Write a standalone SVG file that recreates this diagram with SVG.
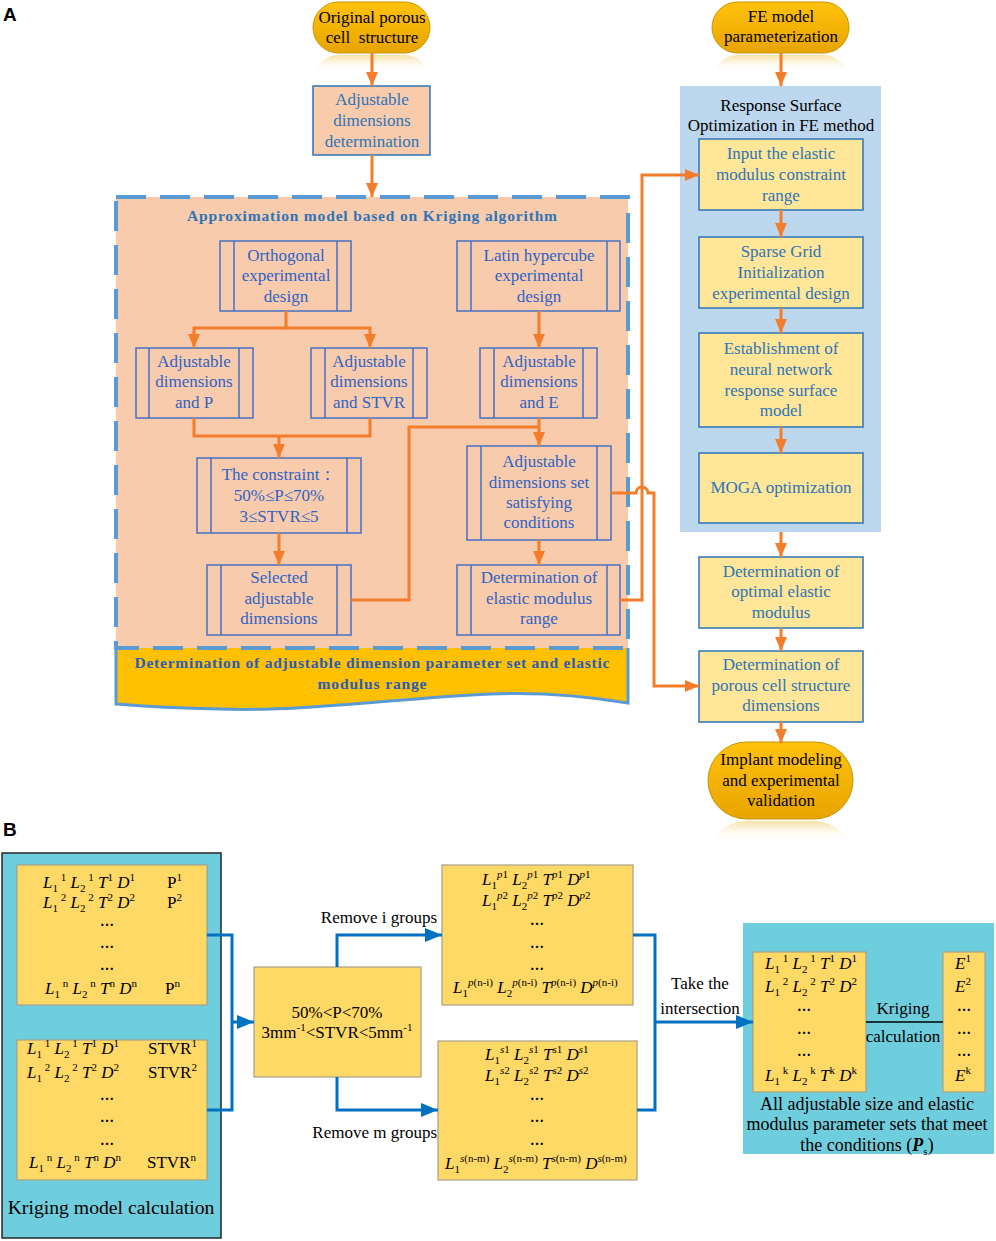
<svg xmlns="http://www.w3.org/2000/svg" width="996" height="1241" viewBox="0 0 996 1241">
<defs>
<style>
text{font-family:"Liberation Serif","Times New Roman",serif;font-size:17px}
.c{text-anchor:middle}
.e{text-anchor:end}
.blk{fill:#000}
.tb{fill:#2E75B6}
.pb{fill:#2F63C4}
.lbl{font-family:"Liberation Sans",Arial,sans-serif;font-weight:bold;font-size:19px;fill:#000}
.bold{font-weight:bold}
.i{font-style:italic}
.dots{font-size:14px;font-weight:bold;text-anchor:middle}
.sup{font-size:11px;baseline-shift:7px}
.sub{font-size:11px;baseline-shift:-4px}
.spb{fill:none;stroke:#4472C4;stroke-width:1.5}
.ybox{fill:#FFE699;stroke:#2E75B6;stroke-width:1.5}
.mbox{fill:#FFD966;stroke:#A9A088;stroke-width:1.2}
.cyan{fill:#6ECEDD}
.oc{fill:none;stroke:#F47D2B;stroke-width:3}
.bc{fill:none;stroke:#0070C0;stroke-width:3}
.pill{fill:url(#gold);stroke:#C99400;stroke-width:1}
</style>
<linearGradient id="gold" x1="0" y1="0" x2="0" y2="1">
<stop offset="0" stop-color="#FFC20C"/>
<stop offset="1" stop-color="#E8A400"/>
</linearGradient>
<linearGradient id="refl" x1="0" y1="0" x2="0" y2="1">
<stop offset="0" stop-color="#F2C24A" stop-opacity="0.5"/>
<stop offset="0.33" stop-color="#FFFFFF" stop-opacity="0"/>
</linearGradient>
<linearGradient id="refl2" x1="0" y1="0" x2="0" y2="1">
<stop offset="0" stop-color="#F2C24A" stop-opacity="0.5"/>
<stop offset="0.26" stop-color="#FFFFFF" stop-opacity="0"/>
</linearGradient>
<clipPath id="c1"><rect x="300" y="55" width="140" height="18"/></clipPath>
<clipPath id="c2"><rect x="700" y="55" width="160" height="18"/></clipPath>
<clipPath id="c3"><rect x="700" y="821" width="160" height="21"/></clipPath>
<marker id="ao" markerUnits="userSpaceOnUse" markerWidth="14" markerHeight="12" refX="14" refY="6" orient="auto">
<path d="M0,0 L14,6 L0,12 z" fill="#F47D2B"/>
</marker>
<marker id="ab" markerUnits="userSpaceOnUse" markerWidth="17" markerHeight="14" refX="17" refY="7" orient="auto">
<path d="M0,0 L17,7 L0,14 z" fill="#0070C0"/>
</marker>
</defs>
<rect width="996" height="1241" fill="#FFFFFF"/>

<text class="lbl" x="3" y="21">A</text>
<text class="lbl" x="3" y="836">B</text>

<!-- Panel A containers -->
<g id="kriging-region">
<path d="M116,648 H628 V703 C580,695 540,692 490,694 C400,698 300,712 220,709 C170,708 140,706 116,704 Z" fill="#FFC000"/>
<path d="M116,648 V704 C140,706 170,708 220,709 C300,712 400,698 490,694 C540,692 580,695 628,703 V648" fill="none" stroke="#5B9BD5" stroke-width="3"/>
<rect x="116" y="197" width="512" height="451" fill="#F8CBAD" stroke="#5B9BD5" stroke-width="4" stroke-dasharray="30 14"/>
<text class="c bold" x="372" y="221" fill="#2E75B6" style="font-size:15.5px" textLength="370" lengthAdjust="spacing">Approximation model based on Kriging algorithm</text>
<text class="c bold" x="372" y="668" fill="#2A5CB8" style="font-size:15.5px" textLength="475" lengthAdjust="spacing">Determination of adjustable dimension parameter set and elastic</text>
<text class="c bold" x="372" y="689" fill="#2A5CB8" style="font-size:15.5px" textLength="109" lengthAdjust="spacing">modulus range</text>
</g>

<g id="rs-panel">
<rect x="680" y="86" width="201" height="446" fill="#BDD7EE"/>
<text class="c blk" x="781" y="111">Response Surface</text>
<text class="c blk" x="781" y="131">Optimization in FE method</text>
</g>

<!-- Panel A nodes -->
<g id="n-original">
<g clip-path="url(#c1)"><rect x="313" y="55" width="117" height="51" rx="25.5" fill="url(#refl)"/></g>
<rect class="pill" x="313" y="2" width="117" height="51" rx="25.5"/>
<text class="c blk" x="372" y="23">Original porous</text>
<text class="c blk" x="372" y="43" xml:space="preserve">cell  structure</text>
</g>
<g id="n-adjdet">
<rect x="313" y="86" width="117" height="69" fill="#F8CBAD" stroke="#2E75B6" stroke-width="1.5"/>
<text class="c tb" x="372" y="105">Adjustable</text>
<text class="c tb" x="372" y="126">dimensions</text>
<text class="c tb" x="372" y="147">determination</text>
</g>
<g id="n-orth">
<rect class="spb" x="220" y="241" width="131" height="70"/>
<path class="spb" d="M234,241 V311 M337,241 V311"/>
<text class="c pb" x="286" y="261">Orthogonal</text>
<text class="c pb" x="286" y="281">experimental</text>
<text class="c pb" x="286" y="302">design</text>
</g>
<g id="n-latin">
<rect class="spb" x="457" y="241" width="163" height="70"/>
<path class="spb" d="M471,241 V311 M607,241 V311"/>
<text class="c pb" x="539" y="261">Latin hypercube</text>
<text class="c pb" x="539" y="281">experimental</text>
<text class="c pb" x="539" y="302">design</text>
</g>
<g id="n-adjP">
<rect class="spb" x="136" y="348" width="117" height="70"/>
<path class="spb" d="M149,348 V418 M239,348 V418"/>
<text class="c pb" x="194" y="367">Adjustable</text>
<text class="c pb" x="194" y="387">dimensions</text>
<text class="c pb" x="194" y="408">and P</text>
</g>
<g id="n-adjSTVR">
<rect class="spb" x="311" y="348" width="116" height="70"/>
<path class="spb" d="M325,348 V418 M413,348 V418"/>
<text class="c pb" x="369" y="367">Adjustable</text>
<text class="c pb" x="369" y="387">dimensions</text>
<text class="c pb" x="369" y="408">and STVR</text>
</g>
<g id="n-adjE">
<rect class="spb" x="480" y="348" width="117" height="70"/>
<path class="spb" d="M494,348 V418 M583,348 V418"/>
<text class="c pb" x="539" y="367">Adjustable</text>
<text class="c pb" x="539" y="387">dimensions</text>
<text class="c pb" x="539" y="408">and E</text>
</g>
<g id="n-constraint">
<rect class="spb" x="197" y="458" width="164" height="75"/>
<path class="spb" d="M211,458 V533 M347,458 V533"/>
<text class="c pb" x="279" y="480">The constraint：</text>
<text class="c pb" x="279" y="501">50%≤P≤70%</text>
<text class="c pb" x="279" y="522">3≤STVR≤5</text>
</g>
<g id="n-set">
<rect class="spb" x="467" y="446" width="144" height="94"/>
<path class="spb" d="M481,446 V540 M597,446 V540"/>
<text class="c pb" x="539" y="467">Adjustable</text>
<text class="c pb" x="539" y="488">dimensions set</text>
<text class="c pb" x="539" y="508">satisfying</text>
<text class="c pb" x="539" y="528">conditions</text>
</g>
<g id="n-selected">
<rect class="spb" x="207" y="565" width="144" height="70"/>
<path class="spb" d="M221,565 V635 M337,565 V635"/>
<text class="c pb" x="279" y="583">Selected</text>
<text class="c pb" x="279" y="604">adjustable</text>
<text class="c pb" x="279" y="624">dimensions</text>
</g>
<g id="n-elrange">
<rect class="spb" x="457" y="565" width="163" height="70"/>
<path class="spb" d="M471,565 V635 M607,565 V635"/>
<text class="c pb" x="539" y="583">Determination of</text>
<text class="c pb" x="539" y="604">elastic modulus</text>
<text class="c pb" x="539" y="624">range</text>
</g>

<g id="n-fe">
<g clip-path="url(#c2)"><rect x="712" y="55" width="137" height="51" rx="25.5" fill="url(#refl)"/></g>
<rect class="pill" x="712" y="2" width="137" height="51" rx="25.5"/>
<text class="c blk" x="781" y="22">FE model</text>
<text class="c blk" x="781" y="42">parameterization</text>
</g>
<g id="n-input">
<rect class="ybox" x="699" y="139" width="164" height="71"/>
<text class="c tb" x="781" y="159">Input the elastic</text>
<text class="c tb" x="781" y="180">modulus constraint</text>
<text class="c tb" x="781" y="201">range</text>
</g>
<g id="n-sparse">
<rect class="ybox" x="699" y="237" width="164" height="71"/>
<text class="c tb" x="781" y="257">Sparse Grid</text>
<text class="c tb" x="781" y="278">Initialization</text>
<text class="c tb" x="781" y="299">experimental design</text>
</g>
<g id="n-nn">
<rect class="ybox" x="699" y="333" width="164" height="94"/>
<text class="c tb" x="781" y="354">Establishment of</text>
<text class="c tb" x="781" y="375">neural network</text>
<text class="c tb" x="781" y="396">response surface</text>
<text class="c tb" x="781" y="416">model</text>
</g>
<g id="n-moga">
<rect class="ybox" x="699" y="453" width="164" height="70"/>
<text class="c tb" x="781" y="493">MOGA optimization</text>
</g>
<g id="n-optimal">
<rect class="ybox" x="699" y="557" width="164" height="71"/>
<text class="c tb" x="781" y="577">Determination of</text>
<text class="c tb" x="781" y="597">optimal elastic</text>
<text class="c tb" x="781" y="618">modulus</text>
</g>
<g id="n-porous">
<rect class="ybox" x="699" y="651" width="164" height="71"/>
<text class="c tb" x="781" y="670">Determination of</text>
<text class="c tb" x="781" y="691">porous cell structure</text>
<text class="c tb" x="781" y="711">dimensions</text>
</g>
<g id="n-implant">
<g clip-path="url(#c3)"><rect x="708" y="821" width="145" height="77" rx="38.5" fill="url(#refl2)"/></g>
<rect class="pill" x="708" y="742" width="145" height="77" rx="38.5"/>
<text class="c blk" x="781" y="765">Implant modeling</text>
<text class="c blk" x="781" y="786">and experimental</text>
<text class="c blk" x="781" y="806">validation</text>
</g>

<!-- Panel A connectors -->
<g id="connectors-a">
<path class="oc" d="M372,53 V86" marker-end="url(#ao)"/>
<path class="oc" d="M372,155 V197" marker-end="url(#ao)"/>
<path class="oc" d="M286,311 V328 H194 V348" marker-end="url(#ao)"/>
<path class="oc" d="M286,328 H370 V348" marker-end="url(#ao)"/>
<path class="oc" d="M539,311 V348" marker-end="url(#ao)"/>
<path class="oc" d="M194,418 V436 H370 V418"/>
<path class="oc" d="M279,436 V458" marker-end="url(#ao)"/>
<path class="oc" d="M539,418 V446" marker-end="url(#ao)"/>
<path class="oc" d="M351,600 H409 V427 H539"/>
<path class="oc" d="M279,533 V565" marker-end="url(#ao)"/>
<path class="oc" d="M539,540 V565" marker-end="url(#ao)"/>
<path class="oc" d="M620,600 H642 V175 H699" marker-end="url(#ao)"/>
<path class="oc" d="M611,493 H636 A6,6 0 0 1 648,493 H654 V686 H699" marker-end="url(#ao)"/>
<path class="oc" d="M781,53 V86" marker-end="url(#ao)"/>
<path class="oc" d="M781,210 V237" marker-end="url(#ao)"/>
<path class="oc" d="M781,308 V333" marker-end="url(#ao)"/>
<path class="oc" d="M781,427 V453" marker-end="url(#ao)"/>
<path class="oc" d="M781,532 V557" marker-end="url(#ao)"/>
<path class="oc" d="M781,628 V651" marker-end="url(#ao)"/>
<path class="oc" d="M781,722 V743" marker-end="url(#ao)"/>
</g>

<!-- Panel B -->
<g id="n-kriging-model">
<rect class="cyan" x="2" y="853" width="219" height="385" stroke="#262626" stroke-width="1.5"/>
<rect class="mbox" x="17" y="865" width="190" height="140"/>
<text x="43" y="888"><tspan class="i">L</tspan><tspan class="sub">1</tspan><tspan class="sup"> 1</tspan> <tspan class="i">L</tspan><tspan class="sub">2</tspan><tspan class="sup"> 1</tspan> <tspan class="i">T</tspan><tspan class="sup">1</tspan> <tspan class="i">D</tspan><tspan class="sup">1</tspan></text>
<text x="167" y="888">P<tspan class="sup">1</tspan></text>
<text x="43" y="908"><tspan class="i">L</tspan><tspan class="sub">1</tspan><tspan class="sup"> 2</tspan> <tspan class="i">L</tspan><tspan class="sub">2</tspan><tspan class="sup"> 2</tspan> <tspan class="i">T</tspan><tspan class="sup">2</tspan> <tspan class="i">D</tspan><tspan class="sup">2</tspan></text>
<text x="167" y="908">P<tspan class="sup">2</tspan></text>
<text class="dots" x="107" y="926">…</text>
<text class="dots" x="107" y="948">…</text>
<text class="dots" x="107" y="970">…</text>
<text x="45" y="994"><tspan class="i">L</tspan><tspan class="sub">1</tspan><tspan class="sup"> n</tspan> <tspan class="i">L</tspan><tspan class="sub">2</tspan><tspan class="sup"> n</tspan> <tspan class="i">T</tspan><tspan class="sup">n</tspan> <tspan class="i">D</tspan><tspan class="sup">n</tspan></text>
<text x="165" y="994">P<tspan class="sup">n</tspan></text>
<rect class="mbox" x="17" y="1040" width="190" height="140"/>
<text x="27" y="1054"><tspan class="i">L</tspan><tspan class="sub">1</tspan><tspan class="sup"> 1</tspan> <tspan class="i">L</tspan><tspan class="sub">2</tspan><tspan class="sup"> 1</tspan> <tspan class="i">T</tspan><tspan class="sup">1</tspan> <tspan class="i">D</tspan><tspan class="sup">1</tspan></text>
<text x="148" y="1054">STVR<tspan class="sup">1</tspan></text>
<text x="27" y="1078"><tspan class="i">L</tspan><tspan class="sub">1</tspan><tspan class="sup"> 2</tspan> <tspan class="i">L</tspan><tspan class="sub">2</tspan><tspan class="sup"> 2</tspan> <tspan class="i">T</tspan><tspan class="sup">2</tspan> <tspan class="i">D</tspan><tspan class="sup">2</tspan></text>
<text x="148" y="1078">STVR<tspan class="sup">2</tspan></text>
<text class="dots" x="107" y="1100">…</text>
<text class="dots" x="107" y="1122">…</text>
<text class="dots" x="107" y="1145">…</text>
<text x="29" y="1168"><tspan class="i">L</tspan><tspan class="sub">1</tspan><tspan class="sup"> n</tspan> <tspan class="i">L</tspan><tspan class="sub">2</tspan><tspan class="sup"> n</tspan> <tspan class="i">T</tspan><tspan class="sup">n</tspan> <tspan class="i">D</tspan><tspan class="sup">n</tspan></text>
<text x="147" y="1168">STVR<tspan class="sup">n</tspan></text>
<text class="c" x="111" y="1214" style="font-size:19.7px">Kriging model calculation</text>
</g>

<g id="n-filter">
<rect class="mbox" x="254" y="967" width="167" height="110"/>
<text class="c" x="337" y="1018">50%&lt;P&lt;70%</text>
<text class="c" x="337" y="1038">3mm<tspan class="sup">-1</tspan>&lt;STVR&lt;5mm<tspan class="sup">-1</tspan></text>
</g>

<g id="n-pset">
<rect class="mbox" x="442" y="865" width="191" height="140"/>
<text x="482" y="885"><tspan class="i">L</tspan><tspan class="sub">1</tspan><tspan class="sup"><tspan class="i">p</tspan>1</tspan> <tspan class="i">L</tspan><tspan class="sub">2</tspan><tspan class="sup"><tspan class="i">p</tspan>1</tspan> <tspan class="i">T</tspan><tspan class="sup"><tspan class="i">p</tspan>1</tspan> <tspan class="i">D</tspan><tspan class="sup"><tspan class="i">p</tspan>1</tspan></text>
<text x="482" y="906"><tspan class="i">L</tspan><tspan class="sub">1</tspan><tspan class="sup"><tspan class="i">p</tspan>2</tspan> <tspan class="i">L</tspan><tspan class="sub">2</tspan><tspan class="sup"><tspan class="i">p</tspan>2</tspan> <tspan class="i">T</tspan><tspan class="sup"><tspan class="i">p</tspan>2</tspan> <tspan class="i">D</tspan><tspan class="sup"><tspan class="i">p</tspan>2</tspan></text>
<text class="dots" x="537" y="925">…</text>
<text class="dots" x="537" y="948">…</text>
<text class="dots" x="537" y="970">…</text>
<text x="453" y="993"><tspan class="i">L</tspan><tspan class="sub">1</tspan><tspan class="sup"><tspan class="i">p</tspan>(n-i)</tspan> <tspan class="i">L</tspan><tspan class="sub">2</tspan><tspan class="sup"><tspan class="i">p</tspan>(n-i)</tspan> <tspan class="i">T</tspan><tspan class="sup"><tspan class="i">p</tspan>(n-i)</tspan> <tspan class="i">D</tspan><tspan class="sup"><tspan class="i">p</tspan>(n-i)</tspan></text>
</g>

<g id="n-sset">
<rect class="mbox" x="438" y="1041" width="199" height="139"/>
<text x="485" y="1060"><tspan class="i">L</tspan><tspan class="sub">1</tspan><tspan class="sup"><tspan class="i">s</tspan>1</tspan> <tspan class="i">L</tspan><tspan class="sub">2</tspan><tspan class="sup"><tspan class="i">s</tspan>1</tspan> <tspan class="i">T</tspan><tspan class="sup"><tspan class="i">s</tspan>1</tspan> <tspan class="i">D</tspan><tspan class="sup"><tspan class="i">s</tspan>1</tspan></text>
<text x="485" y="1081"><tspan class="i">L</tspan><tspan class="sub">1</tspan><tspan class="sup"><tspan class="i">s</tspan>2</tspan> <tspan class="i">L</tspan><tspan class="sub">2</tspan><tspan class="sup"><tspan class="i">s</tspan>2</tspan> <tspan class="i">T</tspan><tspan class="sup"><tspan class="i">s</tspan>2</tspan> <tspan class="i">D</tspan><tspan class="sup"><tspan class="i">s</tspan>2</tspan></text>
<text class="dots" x="537" y="1100">…</text>
<text class="dots" x="537" y="1122">…</text>
<text class="dots" x="537" y="1145">…</text>
<text x="445" y="1169"><tspan class="i">L</tspan><tspan class="sub">1</tspan><tspan class="sup"><tspan class="i">s</tspan>(n-m)</tspan> <tspan class="i">L</tspan><tspan class="sub">2</tspan><tspan class="sup"><tspan class="i">s</tspan>(n-m)</tspan> <tspan class="i">T</tspan><tspan class="sup"><tspan class="i">s</tspan>(n-m)</tspan> <tspan class="i">D</tspan><tspan class="sup"><tspan class="i">s</tspan>(n-m)</tspan></text>
</g>

<g id="n-result">
<rect class="cyan" x="743" y="923" width="251" height="231"/>
<rect class="mbox" x="753" y="952" width="113" height="140"/>
<rect class="mbox" x="943" y="952" width="42" height="140"/>
<text x="765" y="969"><tspan class="i">L</tspan><tspan class="sub">1</tspan><tspan class="sup"> 1</tspan> <tspan class="i">L</tspan><tspan class="sub">2</tspan><tspan class="sup"> 1</tspan> <tspan class="i">T</tspan><tspan class="sup">1</tspan> <tspan class="i">D</tspan><tspan class="sup">1</tspan></text>
<text x="765" y="992"><tspan class="i">L</tspan><tspan class="sub">1</tspan><tspan class="sup"> 2</tspan> <tspan class="i">L</tspan><tspan class="sub">2</tspan><tspan class="sup"> 2</tspan> <tspan class="i">T</tspan><tspan class="sup">2</tspan> <tspan class="i">D</tspan><tspan class="sup">2</tspan></text>
<text class="dots" x="804" y="1011">…</text>
<text class="dots" x="804" y="1034">…</text>
<text class="dots" x="804" y="1056">…</text>
<text x="765" y="1081"><tspan class="i">L</tspan><tspan class="sub">1</tspan><tspan class="sup"> k</tspan> <tspan class="i">L</tspan><tspan class="sub">2</tspan><tspan class="sup"> k</tspan> <tspan class="i">T</tspan><tspan class="sup">k</tspan> <tspan class="i">D</tspan><tspan class="sup">k</tspan></text>
<text x="955" y="969"><tspan class="i">E</tspan><tspan class="sup">1</tspan></text>
<text x="955" y="992"><tspan class="i">E</tspan><tspan class="sup">2</tspan></text>
<text class="dots" x="964" y="1011">…</text>
<text class="dots" x="964" y="1034">…</text>
<text class="dots" x="964" y="1056">…</text>
<text x="955" y="1081"><tspan class="i">E</tspan><tspan class="sup">k</tspan></text>
<path d="M866,1022 H943" stroke="#000" stroke-width="1.5" fill="none"/>
<text class="c" x="903" y="1014">Kriging</text>
<text class="c" x="903" y="1042">calculation</text>
<text class="c" x="867" y="1110" style="font-size:18px">All adjustable size and elastic</text>
<text class="c" x="867" y="1130" style="font-size:18px">modulus parameter sets that meet</text>
<text class="c" x="867" y="1151" style="font-size:18px">the conditions (<tspan class="i bold">P</tspan><tspan class="sub">s</tspan>)</text>
</g>

<g id="connectors-b">
<path class="bc" d="M207,935 H232 V1110 H207"/>
<path class="bc" d="M232,1022 H254" marker-end="url(#ab)"/>
<path class="bc" d="M337,967 V935 H442" marker-end="url(#ab)"/>
<path class="bc" d="M337,1077 V1110 H438" marker-end="url(#ab)"/>
<path class="bc" d="M633,935 H655 V1110 H637"/>
<path class="bc" d="M655,1022 H753" marker-end="url(#ab)"/>
<text class="e" x="437" y="923">Remove i groups</text>
<text class="e" x="437" y="1138">Remove m groups</text>
<text class="c" x="700" y="989">Take the</text>
<text class="c" x="700" y="1014">intersection</text>
</g>
</svg>
